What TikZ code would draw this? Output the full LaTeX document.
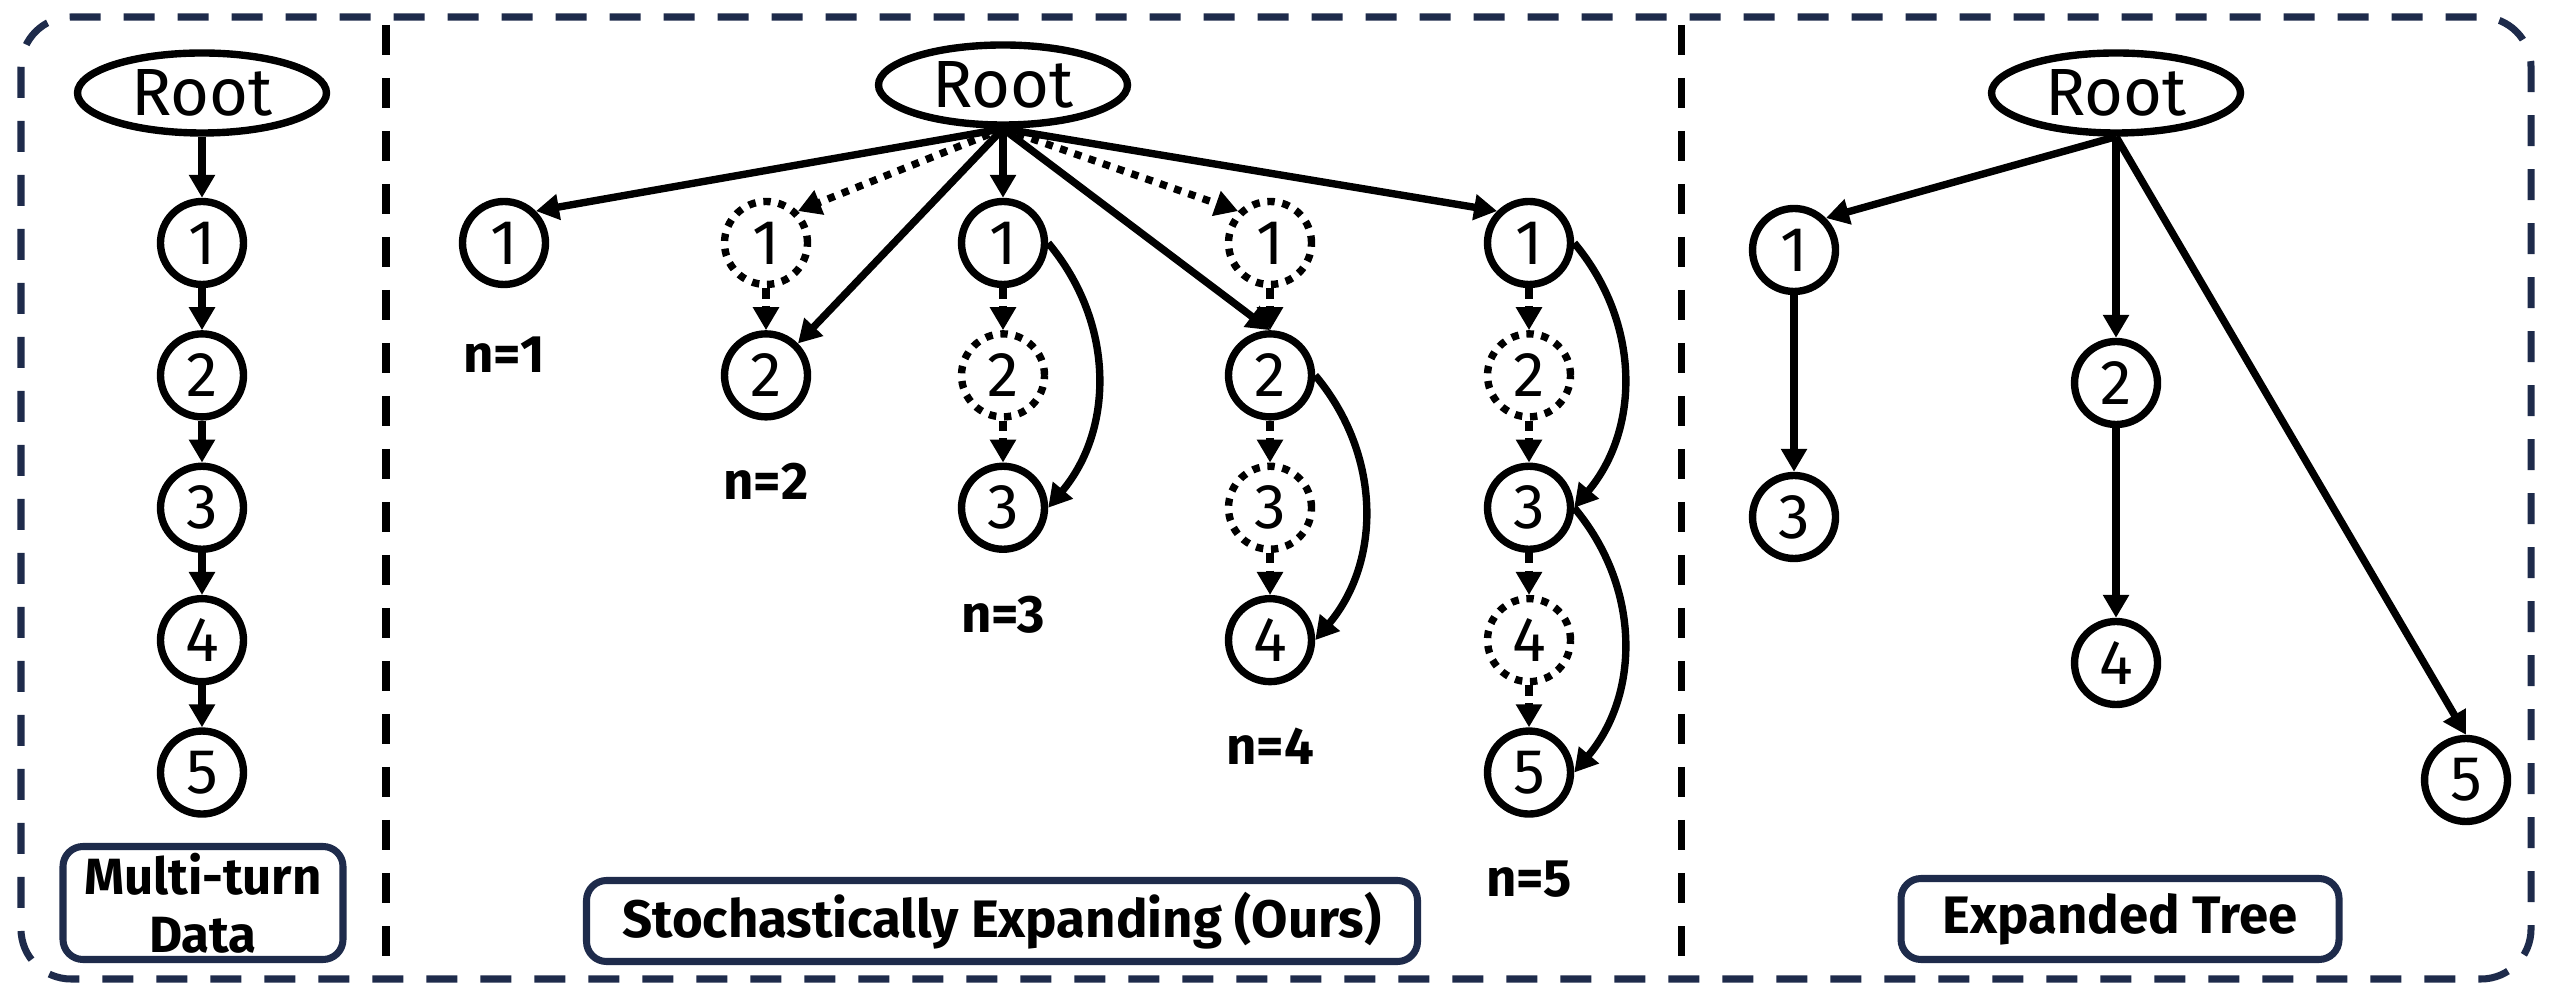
\documentclass[tikz,border=0pt]{standalone}
\usepackage{fontspec}
\setmainfont{Fira Sans}
\usetikzlibrary{arrows.meta,positioning,shapes.geometric}
\definecolor{navy}{HTML}{1E2B4B}

\begin{document}
\begin{tikzpicture}[
  node distance=0.42cm and 1cm,
  turn/.style={draw, ellipse, line width=2.1pt, minimum width=0.83cm, minimum height=0.83cm, inner sep=0pt, font=\fontsize{18}{18}\selectfont},
  ghost/.style={turn, dash pattern=on 2.1pt off 2.2pt},
  root/.style={draw, ellipse, line width=2.1pt, minimum width=2.49cm, minimum height=0.8cm, inner sep=0pt, font=\fontsize{19}{19}\selectfont},
  arr/.style={-{Triangle[length=0.23cm, width=0.25cm]}, line width=2.1pt},
  dotarr/.style={arr, dash pattern=on 2.1pt off 2.2pt},
  dasharr/.style={arr, dash pattern=on 3pt off 2pt},
  count/.style={inner sep=0pt, font=\bfseries\fontsize{15}{15}\selectfont},
  tagbox/.style={draw=navy, line width=2pt, rounded corners=0.2cm, fill=white, align=center, inner sep=0pt, font=\bfseries\fontsize{15}{17}\selectfont}
]
\useasboundingbox (0,0) rectangle (25.5,-10);

% frame and panel dividers
\draw[navy, line width=2pt, dash pattern=on 0.31cm off 0.23cm, rounded corners=0.5cm] (0.21,-0.17) rectangle (25.31,-9.79);
\draw[line width=2pt, dash pattern=on 0.3cm off 0.23cm] (3.86,-0.25) -- (3.86,-9.68);
\draw[line width=2pt, dash pattern=on 0.3cm off 0.23cm] (16.81,-0.25) -- (16.81,-9.68);

% multi-turn data
\node[root] (r1) at (2.02,-0.93) {Root};
\node[turn] (m1) at (2.02,-2.43) {1};
\node[turn, below=of m1] (m2) {2};
\node[turn, below=of m2] (m3) {3};
\node[turn, below=of m3] (m4) {4};
\node[turn, below=of m4] (m5) {5};
\foreach \a/\b in {r1/m1, m1/m2, m2/m3, m3/m4, m4/m5}
  \draw[arr] (\a) -- (\b);
\node[tagbox, minimum width=2.8cm, minimum height=1.13cm, font=\bfseries\fontsize{14.5}{16.5}\selectfont] (multi) at (2.03,-9.03) {Multi-turn\\Data};

% stochastic expanding
\node[root] (r2) at (10.03,-0.85) {Root};
\node[turn] (a1) at (5.04,-2.43) {1};
\node[count, below=0.48cm of a1] (n1) {n=1};

\node[ghost] (b1) at (7.66,-2.43) {1};
\node[turn, below=of b1] (b2) {2};
\node[count, below=0.42cm of b2] (n2) {n=2};

\node[turn] (c1) at (10.03,-2.43) {1};
\node[ghost, below=of c1] (c2) {2};
\node[turn, below=of c2] (c3) {3};
\node[count, below=0.42cm of c3] (n3) {n=3};

\node[ghost] (d1) at (12.70,-2.43) {1};
\node[turn, below=of d1] (d2) {2};
\node[ghost, below=of d2] (d3) {3};
\node[turn, below=of d3] (d4) {4};
\node[count, below=0.42cm of d4] (n4) {n=4};

\node[turn] (e1) at (15.29,-2.43) {1};
\node[ghost, below=of e1] (e2) {2};
\node[turn, below=of e2] (e3) {3};
\node[ghost, below=of e3] (e4) {4};
\node[turn, below=of e4] (e5) {5};
\node[count, below=0.42cm of e5] (n5) {n=5};

\draw[arr] (r2.south) -- (a1.north east);
\draw[dotarr] (r2.south) -- (b1.north east);
\draw[arr] (r2.south) -- (b2.north east);
\draw[arr] (r2.south) -- (c1.north);
\draw[dotarr] (r2.south) -- (d1.north west);
\draw[arr] (r2.south) -- (d2.north);
\draw[arr] (r2.south) -- (e1.north west);

\foreach \a/\b in {b1/b2, c1/c2, c2/c3, d1/d2, d2/d3, d3/d4, e1/e2, e2/e3, e3/e4, e4/e5}
  \draw[dasharr] (\a) -- (\b);

\draw[arr] (c1.east) to[bend left=40] (c3.east);
\draw[arr] (d2.east) to[bend left=40] (d4.east);
\draw[arr] (e1.east) to[bend left=40] (e3.east);
\draw[arr] (e3.east) to[bend left=40] (e5.east);

\node[tagbox, minimum width=8.31cm, minimum height=0.81cm] (ours) at (10.02,-9.21) {Stochastically Expanding (Ours)};

% expanded tree
\node[root] (r3) at (21.16,-0.93) {Root};
\node[turn] (t1) at (17.94,-2.50) {1};
\node[turn] (t2) at (21.16,-3.83) {2};
\node[turn] (t3) at (17.94,-5.17) {3};
\node[turn] (t4) at (21.16,-6.63) {4};
\node[turn] (t5) at (24.66,-7.80) {5};
\draw[arr] (r3.south) -- (t1.north east);
\draw[arr] (r3.south) -- (t2.north);
\draw[arr] (r3.south) -- (t5.north);
\draw[arr] (t1) -- (t3);
\draw[arr] (t2) -- (t4);
\node[tagbox, minimum width=4.38cm, minimum height=0.81cm] (tree) at (21.20,-9.19) {Expanded Tree};
\end{tikzpicture}
\end{document}
